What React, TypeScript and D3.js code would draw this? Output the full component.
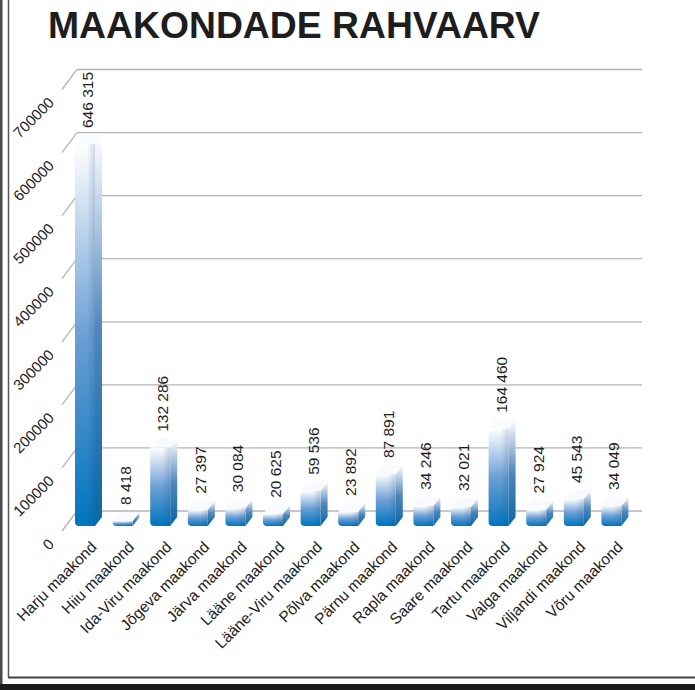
import React, { useRef, useEffect } from "react";
import * as d3 from "d3";

const counties = [
	"Harju maakond",
	"Hiiu maakond",
	"Ida-Viru maakond",
	"Jõgeva maakond",
	"Järva maakond",
	"Lääne maakond",
	"Lääne-Viru maakond",
	"Põlva maakond",
	"Pärnu maakond",
	"Rapla maakond",
	"Saare maakond",
	"Tartu maakond",
	"Valga maakond",
	"Viljandi maakond",
	"Võru maakond",
];
const population = [
	646315, 8418, 132286, 27397, 30084, 20625, 59536, 23892, 87891, 34246,
	32021, 164460, 27924, 45543, 34049,
];
const yTicks = [0, 100000, 200000, 300000, 400000, 500000, 600000, 700000];
const title = "MAAKONDADE RAHVAARV";

const W = 695;
const H = 690;
const FONT = "'Liberation Sans', Arial, sans-serif";

const App = () => {
	const svgRef = useRef(null);

	useEffect(() => {
		document.body.style.margin = "0";
		const svg = d3.select(svgRef.current);
		svg.selectAll("*").remove();

		// wall geometry (back wall + left wall depth)
		const wallLeft = 77;
		const wallRight = 642;
		const depthX = 15;
		const depthY = 20;
		const yWall = d3.scaleLinear().domain([0, 700000]).range([511, 69.5]);
		const yFront = (v) => yWall(v) + depthY;

		// bars sit a bit behind the front edge
		const yBar = d3.scaleLinear().domain([0, 700000]).range([526, 112.3]);
		const x = d3.scaleBand().domain(counties).range([69.7, 633.7]);
		const barW = 20;
		const bdx = 7;
		const bdy = 9;

		const fmt = d3.formatLocale({
			decimal: ",",
			thousands: " ",
			grouping: [3],
			currency: ["", ""],
		}).format(",");

		const defs = svg.append("defs");
		const front = defs
			.append("linearGradient")
			.attr("id", "barFront")
			.attr("x1", 0)
			.attr("y1", 0)
			.attr("x2", 0)
			.attr("y2", 1);
		front.append("stop").attr("offset", 0).attr("stop-color", "#ffffff");
		front.append("stop").attr("offset", 0.5).attr("stop-color", "#6c9fd6");
		front.append("stop").attr("offset", 1).attr("stop-color", "#0075be");

		const side = defs
			.append("linearGradient")
			.attr("id", "barSide")
			.attr("x1", 0)
			.attr("y1", 0)
			.attr("x2", 0)
			.attr("y2", 1);
		side.append("stop").attr("offset", 0).attr("stop-color", "#ffffff");
		side.append("stop").attr("offset", 0.5).attr("stop-color", "#4f86bd");
		side.append("stop").attr("offset", 1).attr("stop-color", "#0a67a3");

		const shade = defs
			.append("linearGradient")
			.attr("id", "barShade")
			.attr("x1", 0)
			.attr("y1", 0)
			.attr("x2", 1)
			.attr("y2", 0);
		shade.append("stop").attr("offset", 0).attr("stop-color", "#003a66").attr("stop-opacity", 0);
		shade.append("stop").attr("offset", 0.6).attr("stop-color", "#003a66").attr("stop-opacity", 0);
		shade.append("stop").attr("offset", 1).attr("stop-color", "#003a66").attr("stop-opacity", 0.18);

		svg.append("rect").attr("width", W).attr("height", H).attr("fill", "#fff");

		// frame
		svg.append("rect").attr("x", 0).attr("y", 0).attr("width", 2.5).attr("height", 684).attr("fill", "#4a4a4a");
		svg.append("line")
			.attr("x1", 8.5).attr("x2", 8.5).attr("y1", 0).attr("y2", 677.5)
			.attr("stroke", "#555").attr("stroke-width", 1.5);
		svg.append("line")
			.attr("x1", 8).attr("x2", W).attr("y1", 677.5).attr("y2", 677.5)
			.attr("stroke", "#444").attr("stroke-width", 2);
		svg.append("rect").attr("x", 0).attr("y", 684).attr("width", W).attr("height", 6).attr("fill", "#1c1c1c");

		// title
		svg.append("text")
			.attr("x", 48)
			.attr("y", 38)
			.attr("font-family", FONT)
			.attr("font-weight", "bold")
			.attr("font-size", 36)
			.attr("textLength", 492)
			.attr("lengthAdjust", "spacingAndGlyphs")
			.attr("fill", "#1e1e1e")
			.text(title);

		// gridlines on back wall and left wall
		const grid = svg.append("g").attr("stroke", "#b4b4b4").attr("stroke-width", 1.3).attr("fill", "none");
		grid.selectAll("line.back")
			.data(yTicks)
			.join("line")
			.attr("class", "back")
			.attr("x1", wallLeft)
			.attr("x2", wallRight)
			.attr("y1", (d) => yWall(d))
			.attr("y2", (d) => yWall(d));
		grid.selectAll("line.side")
			.data(yTicks)
			.join("line")
			.attr("class", "side")
			.attr("x1", wallLeft - depthX)
			.attr("x2", wallLeft)
			.attr("y1", (d) => yFront(d))
			.attr("y2", (d) => yWall(d));

		// y axis labels
		svg.append("g")
			.selectAll("text")
			.data(yTicks)
			.join("text")
			.attr("transform", (d) => `translate(55,${yFront(d) + 14}) rotate(-45)`)
			.attr("text-anchor", "end")
			.attr("font-family", FONT)
			.attr("font-size", 15)
			.attr("fill", "#1e1e1e")
			.text((d) => d);

		// bars
		const bars = svg.append("g")
			.selectAll("g")
			.data(counties.map((c, i) => ({ name: c, value: population[i] })))
			.join("g");

		bars.each(function (d) {
			const g = d3.select(this);
			const x0 = x(d.name) + x.bandwidth() / 2 - (barW + bdx) / 2;
			const x1 = x0 + barW;
			const top = yBar(d.value);
			const bottom = yBar(0);
			const r = 4;

			g.append("path")
				.attr("d", `M${x1},${top}L${x1 + bdx},${top - bdy}L${x1 + bdx},${bottom - bdy}L${x1},${bottom}Z`)
				.attr("fill", "url(#barSide)");
			g.append("path")
				.attr("d", `M${x0},${top}L${x0 + bdx},${top - bdy}L${x1 + bdx},${top - bdy}L${x1},${top}Z`)
				.attr("fill", "#f8fafd");
			const frontPath = `M${x0},${top}L${x1},${top}L${x1},${bottom}L${x0 + r},${bottom}Q${x0},${bottom} ${x0},${bottom - r}Z`;
			g.append("path").attr("d", frontPath).attr("fill", "url(#barFront)");
			g.append("path").attr("d", frontPath).attr("fill", "url(#barShade)");

			// value label
			g.append("text")
				.attr("transform", `translate(${x0 + 18},${top - bdy - 7}) rotate(-90)`)
				.attr("text-anchor", "start")
				.attr("font-family", FONT)
				.attr("font-size", 15.5)
				.attr("fill", "#1e1e1e")
				.text(fmt(d.value));
		});

		// category labels
		svg.append("g")
			.selectAll("text")
			.data(counties)
			.join("text")
			.attr("transform", (d) => `translate(${x(d) + x.bandwidth() / 2 + 9},548) rotate(-45)`)
			.attr("text-anchor", "end")
			.attr("font-family", FONT)
			.attr("font-size", 15.5)
			.attr("fill", "#1e1e1e")
			.text((d) => d);
	}, []);

	return (
		<svg
			ref={svgRef}
			width={W}
			height={H}
			style={{ display: "block", position: "absolute", left: 0, top: 0 }}
		/>
	);
};

export default App;
